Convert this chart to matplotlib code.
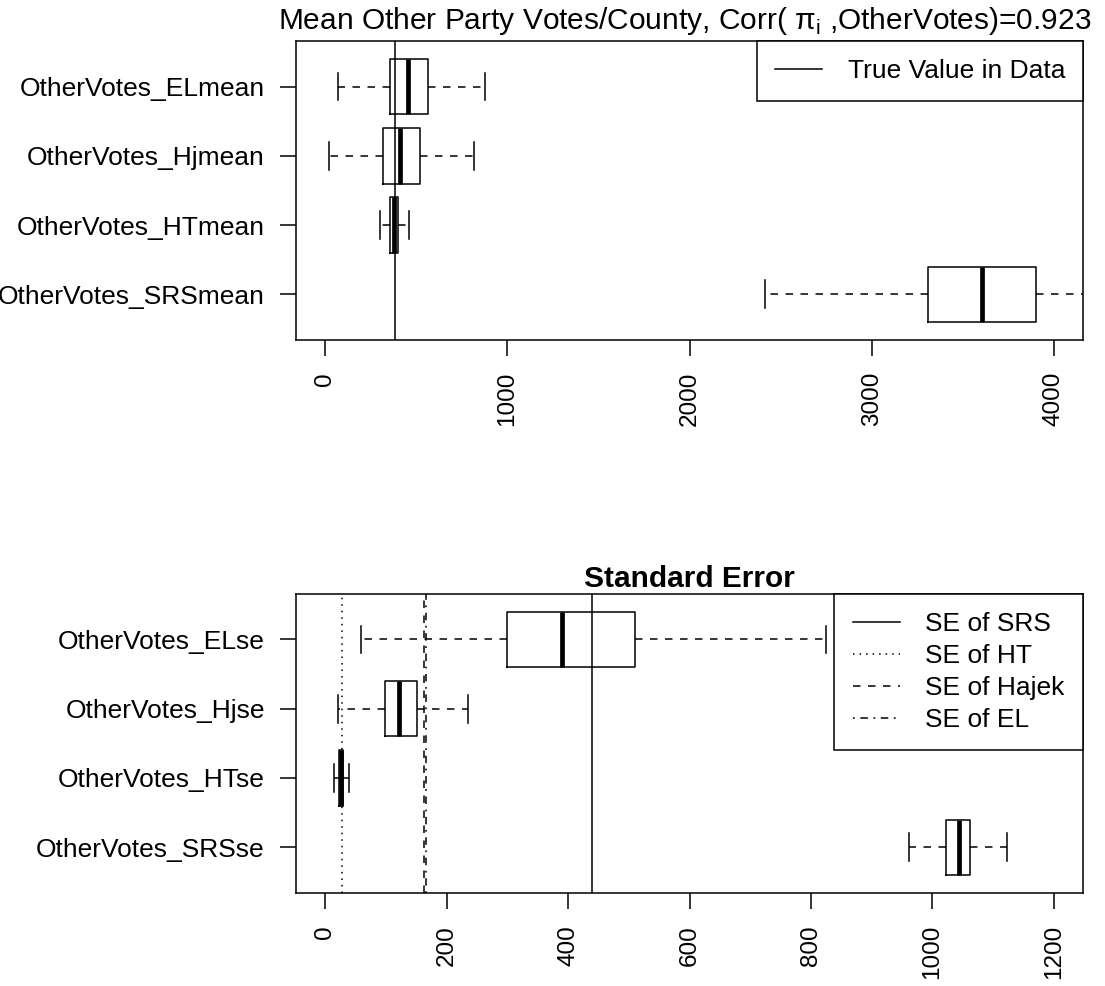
import matplotlib
matplotlib.use("Agg")
import matplotlib.pyplot as plt
from matplotlib.lines import Line2D

plt.rcParams['font.family'] = ['Liberation Sans', 'DejaVu Sans']
plt.rcParams['lines.scale_dashes'] = False

# top panel: mean estimates
mean_names = ["OtherVotes_SRSmean", "OtherVotes_HTmean", "OtherVotes_Hjmean", "OtherVotes_ELmean"]
mean_lo = [2417, 300, 21, 72]
mean_q1 = [3310, 357, 320, 357]
mean_med = [3608, 378, 410, 456]
mean_q3 = [3904, 400, 518, 567]
mean_hi = [4400, 462, 817, 879]
true_mean = 385

# bottom panel: standard errors
se_names = ["OtherVotes_SRSse", "OtherVotes_HTse", "OtherVotes_Hjse", "OtherVotes_ELse"]
se_lo = [962, 15, 21, 59]
se_q1 = [1023, 23, 98, 299]
se_med = [1043, 26, 122, 390]
se_q3 = [1062, 30, 152, 510]
se_hi = [1123, 39, 236, 825]
se_ref_labels = ["SE of SRS", "SE of HT", "SE of Hajek", "SE of EL"]
se_ref_values = [439, 28, 162, 166]

LW = 1.1
FS = 19
XFS = 17.5
TFS = 21.5
dashed = (0, (5.4, 5.4))
dotted = (0, (1.1, 3.6))
dotdash = (0, (1.3, 4.0, 5.4, 4.0))
ref_styles = ['-', dotted, dashed, dotdash]


def draw_box(ax, names, lo, q1, med, q3, hi, xlim, xticks):
    stats = []
    for n, a, b, c, d, e in zip(names, lo, q1, med, q3, hi):
        stats.append(dict(label=n, whislo=a, q1=b, med=c, q3=d, whishi=e))
    ax.bxp(stats, positions=range(1, len(stats) + 1), widths=0.8, capwidths=0.4,
           orientation='horizontal', showfliers=False,
           boxprops=dict(color='black', linewidth=LW),
           whiskerprops=dict(color='black', linewidth=LW, linestyle=dashed),
           capprops=dict(color='black', linewidth=LW),
           medianprops=dict(color='black', linewidth=3.4, solid_capstyle='butt'))
    ax.set_xlim(xlim)
    ax.set_ylim(0.34, 4.66)
    ax.set_xticks(xticks)
    ax.set_xticklabels([str(t) for t in xticks], rotation=90, fontsize=XFS)
    ax.tick_params(axis='y', labelsize=FS, length=11.5, width=LW, pad=11)
    ax.tick_params(axis='x', length=11.5, width=LW, pad=11.5)
    for s in ax.spines.values():
        s.set_linewidth(LW)


fig = plt.figure(figsize=(11.05, 9.86), dpi=100)
ax1 = fig.add_axes([0.2679, 0.6552, 0.7122, 0.3033])
ax2 = fig.add_axes([0.2679, 0.0943, 0.7122, 0.3036])

draw_box(ax1, mean_names, mean_lo, mean_q1, mean_med, mean_q3, mean_hi,
         (-160, 4160), [0, 1000, 2000, 3000, 4000])
ax1.axvline(true_mean, color='black', linewidth=LW)
ax1.set_title("Mean Other Party Votes/County, Corr( π$_\\mathregular{i}$ ,OtherVotes)=0.923",
              fontsize=TFS, pad=8.3, x=0.494)
leg1 = ax1.legend([Line2D([], [], color='black', linewidth=LW)], ["True Value in Data"],
                  loc='upper right', borderaxespad=0, fancybox=False, framealpha=1,
                  edgecolor='black', fontsize=FS, handlelength=1.8, handletextpad=0.95,
                  borderpad=0.68)
leg1.get_frame().set_linewidth(LW)

draw_box(ax2, se_names, se_lo, se_q1, se_med, se_q3, se_hi,
         (-48, 1248), [0, 200, 400, 600, 800, 1000, 1200])
for v, st in zip(se_ref_values, ref_styles):
    ax2.axvline(v, color='black', linewidth=LW, linestyle=st)
ax2.set_title("Standard Error", fontsize=TFS, fontweight='bold', pad=4.8)
handles = [Line2D([], [], color='black', linewidth=LW, linestyle=st) for st in ref_styles]
leg2 = ax2.legend(handles, se_ref_labels, loc='upper right', borderaxespad=0,
                  fancybox=False, framealpha=1, edgecolor='black', fontsize=FS,
                  handlelength=1.8, handletextpad=0.95, borderpad=0.7, labelspacing=0.3)
leg2.get_frame().set_linewidth(LW)

fig.savefig("out.png", dpi=100)
